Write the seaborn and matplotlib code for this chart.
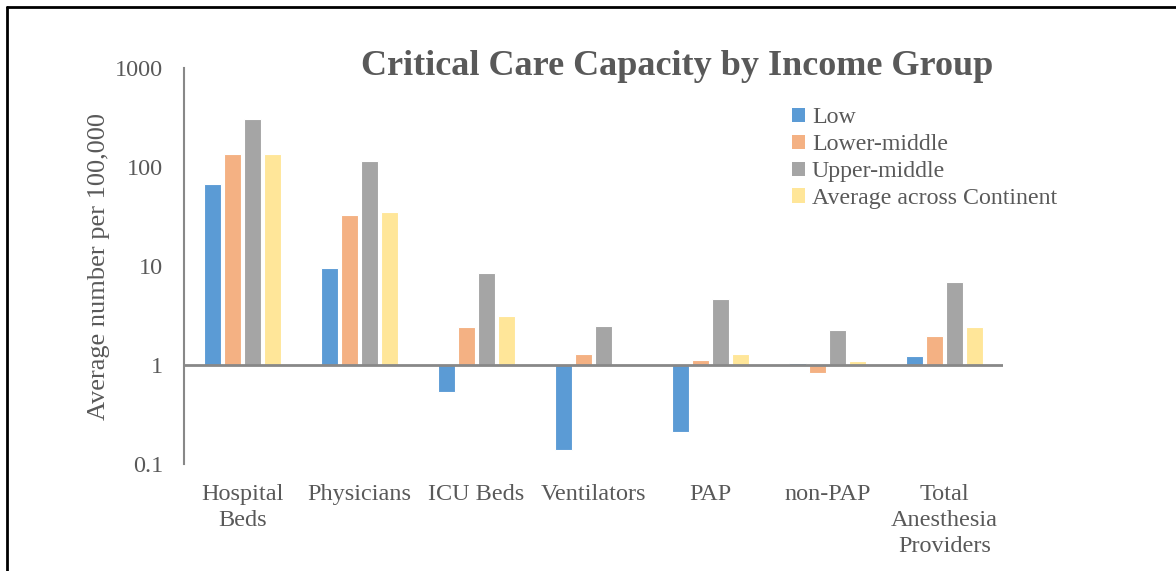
import numpy as np
import pandas as pd
import matplotlib.pyplot as plt
from matplotlib.lines import Line2D
from matplotlib.patches import Patch
import seaborn as sns

# values (average number per 100,000)
categories = ['Hospital\nBeds', 'Physicians', 'ICU Beds', 'Ventilators', 'PAP', 'non-PAP',
              'Total\nAnesthesia\nProviders']
groups = ['Low', 'Lower-middle', 'Upper-middle', 'Average across Continent']
low = [67, 9.5, 0.53, 0.14, 0.21, 1.04, 1.25]
lower_middle = [135, 32.7, 2.4, 1.29, 1.14, 0.84, 1.96]
upper_middle = [303, 115, 8.5, 2.5, 4.6, 2.29, 6.9]
average = [135, 35.3, 3.1, 0.99, 1.3, 1.1, 2.42]
colors = ['#5B9BD5', '#F4B183', '#A5A5A5', '#FFE699']

ytick_values = [0.1, 1, 10, 100, 1000]

rows = []
for g, vals in zip(groups, [low, lower_middle, upper_middle, average]):
    for c, v in zip(categories, vals):
        rows.append({'category': c, 'group': g, 'value': v})
df = pd.DataFrame(rows)
# bars grow from 1 like the Excel log axis, so plot in log10 units
df['log_value'] = np.log10(df['value'])

sns.set_style('white')
plt.rcParams['font.family'] = ['Liberation Serif', 'DejaVu Serif']
text_color = '#595959'

fig = plt.figure(figsize=(11.76, 5.71), dpi=100)
ax = fig.add_axes([0.1565, 0.187, 0.6965, 0.694])

sns.barplot(data=df, x='category', y='log_value', hue='group', palette=colors,
            order=categories, hue_order=groups, width=0.69, gap=0.15, saturation=1,
            edgecolor='white', linewidth=0.8, ax=ax, legend=False)

ax.set_xlim(-0.5, 6.5)
ax.set_ylim(-1, 3)
ax.set_yticks(np.log10(ytick_values))
ax.set_yticklabels([f'{v:g}' for v in ytick_values])
ax.tick_params(axis='both', length=0, labelsize=17.5, labelcolor=text_color)
ax.tick_params(axis='x', pad=14)
for lbl in ax.get_xticklabels():
    lbl.set_horizontalalignment('center')
    lbl.set_linespacing(1.32)
ax.tick_params(axis='y', pad=15)

ax.set_xlabel('')
ax.set_ylabel('Average number per 100,000', fontsize=19, color=text_color, labelpad=4)

for s in ['top', 'right', 'bottom']:
    ax.spines[s].set_visible(False)
ax.spines['left'].set_color('#888888')
ax.spines['left'].set_linewidth(1.5)
ax.axhline(0, color='#888888', linewidth=2, zorder=5)

handles = [Patch(facecolor=c, edgecolor='none') for c in colors]
ax.legend(handles, groups, loc='upper left', bbox_to_anchor=(0.73, 0.925), frameon=False,
          fontsize=17.2, labelcolor=text_color, handlelength=0.55, handleheight=0.55,
          handletextpad=0.3, labelspacing=0.25, borderaxespad=0)

fig.text(0.576, 0.884, 'Critical Care Capacity by Income Group', ha='center', va='center',
         fontsize=26, fontweight='bold', color=text_color)

# frame lines at top and left of the image
fig.add_artist(Line2D([0.006, 1], [0.9875, 0.9875], color='black', linewidth=2))
fig.add_artist(Line2D([0.006, 0.006], [0, 0.9875], color='black', linewidth=2))

fig.savefig('out.png', dpi=100)
